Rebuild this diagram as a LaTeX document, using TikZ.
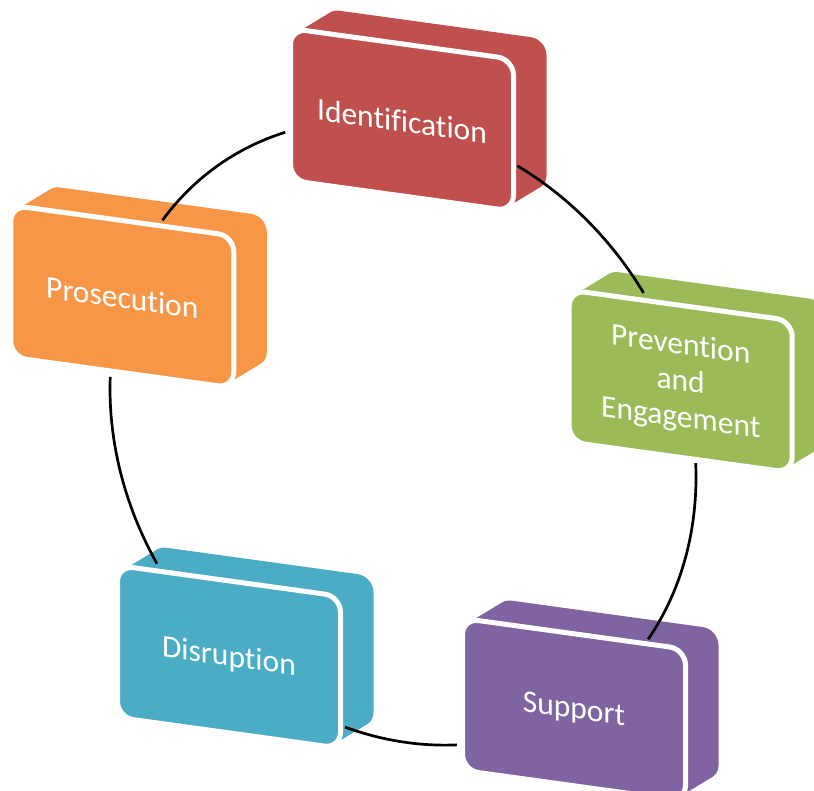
\documentclass[tikz,border=0pt]{standalone}
\usepackage{fontspec}
\setmainfont{Carlito}[Ligatures=NoCommon]
\definecolor{cred}{HTML}{C0504D}
\definecolor{corange}{HTML}{F79646}
\definecolor{cgreen}{HTML}{9BBB59}
\definecolor{cblue}{HTML}{4BACC6}
\definecolor{cpurple}{HTML}{8064A2}
\tikzset{
  backface/.style={fill=#1, rounded corners=16},
  frontface/.style={fill=#1, draw=white, line width=5pt, rounded corners=16},
  boxtext/.style={text=white, font=\fontsize{31.5}{36.5}\selectfont, align=center, transform shape, inner sep=0pt},
  ring/.style={line width=2.7pt, draw=black},
}
\newcommand\mybackbox[3]{%
  \begin{scope}[shift={(#1,791-#2)}, yslant=-0.138]
    \foreach \t in {0,0.1,0.2,0.3,0.4,0.5,0.6,0.7,0.8,0.9,1} {
      \fill[backface=#3] (33*\t,24.5*\t) rectangle ++(223,-152);
    }
  \end{scope}}
\newcommand\myfrontbox[5]{%
  \begin{scope}[shift={(#2,791-#3)}, yslant=-0.138]
    \filldraw[frontface=#4] (0,0) rectangle (223,-152);
    \node[boxtext] (#1) at (111.5,-77) {#5};
  \end{scope}}
\begin{document}
\begin{tikzpicture}[x=1pt,y=1pt]
\useasboundingbox (0,0) rectangle (814,791);
\clip (0,0) rectangle (814,791);
% back parts
\mybackbox{290.5}{28.5}{cred}
\mybackbox{10.8}{205.2}{corange}
\mybackbox{569.2}{290}{cgreen}
\mybackbox{117.5}{565.5}{cblue}
\mybackbox{462.5}{618.4}{cpurple}
% cycle arcs
\begin{scope}[shift={(403,358)}, yslant=-0.151]
  \draw[ring] plot[domain=67:34.8, samples=40, smooth] ({293*cos(\x)},{309*sin(\x)});
  \draw[ring] plot[domain=2.6:-33.2, samples=40, smooth] ({293*cos(\x)},{309*sin(\x)});
  \draw[ring] plot[domain=-79.4:-101.4, samples=30, smooth] ({293*cos(\x)},{309*sin(\x)});
  \draw[ring] plot[domain=-147.1:-182.2, samples=40, smooth] ({293*cos(\x)},{309*sin(\x)});
  \draw[ring] plot[domain=145.2:113.7, samples=40, smooth] ({293*cos(\x)},{309*sin(\x)});
\end{scope}
% front faces
\myfrontbox{ident}{290.5}{28.5}{cred}{Identification}
\myfrontbox{prosec}{10.8}{205.2}{corange}{Prosecution}
\myfrontbox{prevent}{569.2}{290}{cgreen}{Prevention\\and\\Engagement}
\myfrontbox{disrupt}{117.5}{565.5}{cblue}{Disruption}
\myfrontbox{support}{462.5}{618.4}{cpurple}{Support}
\end{tikzpicture}
\end{document}
